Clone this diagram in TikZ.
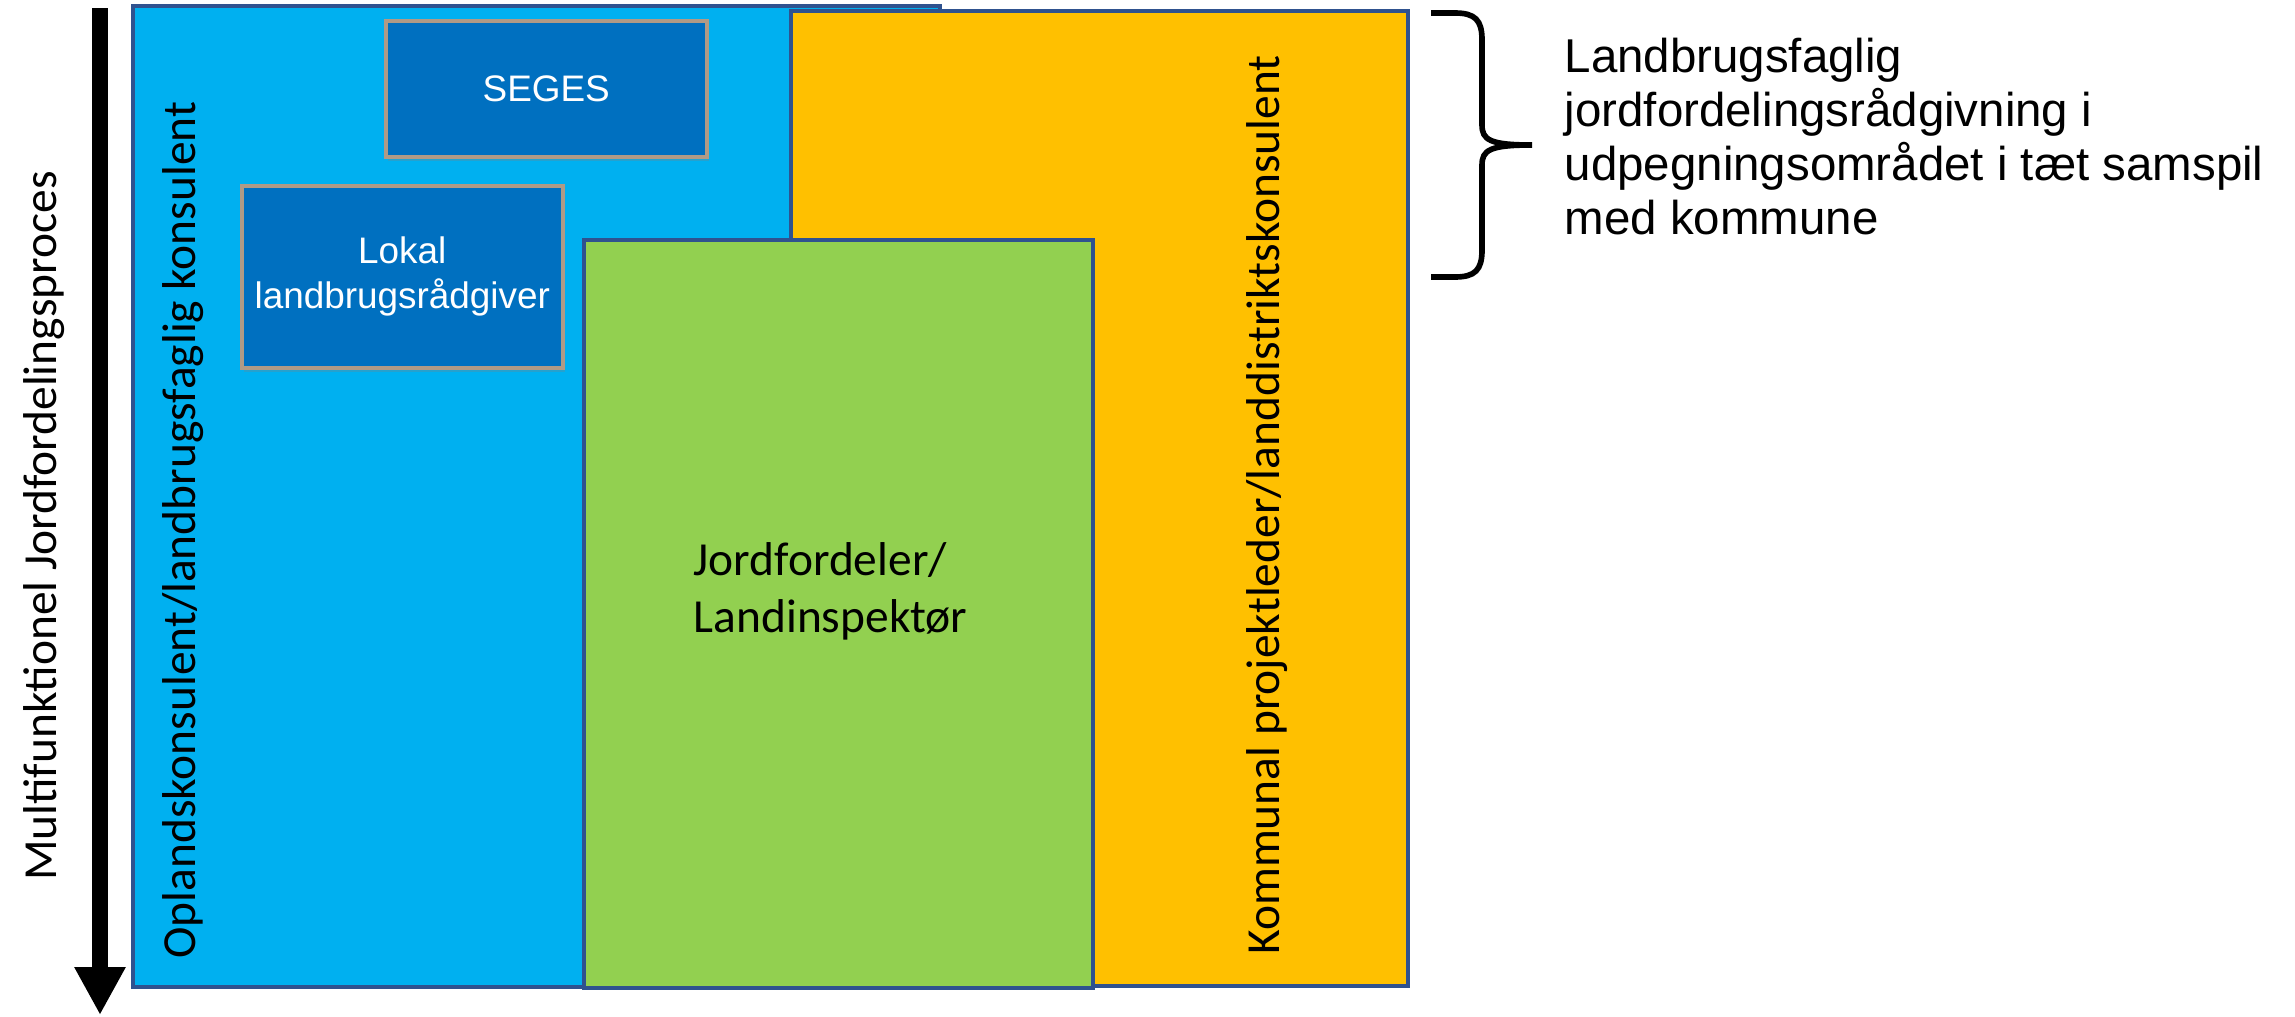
\documentclass[tikz,border=0pt]{standalone}
\usepackage{fontspec}
\setmainfont{Carlito}
\newfontfamily\arialfont{Liberation Sans}
\usetikzlibrary{arrows.meta,shadows}
\definecolor{lysblaa}{HTML}{00B0F0}
\definecolor{moerkblaa}{HTML}{0070C0}
\definecolor{orangegul}{HTML}{FFC000}
\definecolor{lysgroen}{HTML}{92D050}
\definecolor{kant}{HTML}{2F528F}
\definecolor{boksrand}{HTML}{B09A86}

\begin{document}
\begin{tikzpicture}[
  felt/.style={draw=kant,line width=0.9pt},
  boks/.style={draw=boksrand,line width=1pt,fill=moerkblaa,text=white,
    font=\arialfont\fontsize{10.5}{12.8}\selectfont,align=center,
    anchor=north west,inner sep=0pt,minimum width=3.21cm,
    drop shadow={opacity=0.3,shadow xshift=0.6pt,shadow yshift=-1.2pt}},
  lodret/.style={rotate=90,font=\fontsize{13.5}{16}\selectfont},
  pil/.style={line width=4.6pt,-{Triangle[width=0.48cm,length=0.48cm]}}
]
\useasboundingbox (0,0) rectangle (22.95,-10.16);

% tidsakse
\coordinate (start) at (1.00,-0.08);
\coordinate (slut) at (1.00,-10.15);
\draw[pil] (start) -- (slut);
\node[lodret] (proces) at (0.44,-5.26) {Multifunktionel Jordfordelingsproces};

% felter
\draw[felt,fill=lysblaa] (1.33,-0.06) rectangle (9.40,-9.87);
\draw[felt,fill=orangegul] (7.91,-0.11) rectangle (14.08,-9.86);
\draw[felt,fill=lysgroen] (5.84,-2.40) rectangle (10.93,-9.88);

\node[lodret] (opland) at (1.835,-5.30) {Oplandskonsulent/landbrugsfaglig konsulent};
\node[lodret] (kommune) at (12.67,-5.05) {Kommunal projektleder/landdistriktskonsulent};
\node[anchor=west,align=left,inner sep=0pt,font=\fontsize{13.5}{16.2}\selectfont] (jordf) at (6.93,-5.91) {Jordfordeler/\\Landinspekt\o r};

% raadgivere
\node[boks,minimum height=1.36cm] (seges) at (3.84,-0.19) {SEGES};
\node[boks,minimum height=1.82cm] (lokal) at (2.40,-1.84) {Lokal\\landbrugsr\aa dgiver};

% klamme
\draw[line width=1.6pt] (14.31,-0.13) -- (14.55,-0.13)
  .. controls (14.75,-0.13) and (14.82,-0.20) .. (14.82,-0.40) -- (14.82,-1.25)
  .. controls (14.82,-1.40) and (14.90,-1.45) .. (15.32,-1.45)
  .. controls (14.90,-1.45) and (14.82,-1.50) .. (14.82,-1.65) -- (14.82,-2.50)
  .. controls (14.82,-2.70) and (14.75,-2.77) .. (14.55,-2.77) -- (14.31,-2.77);
\node[anchor=north west,align=left,inner sep=0pt,font=\arialfont\fontsize{13.5}{15.4}\selectfont] (tekst) at (15.64,-0.37)
  {Landbrugsfaglig\\jordfordelingsr\aa dgivning i\\udpegningsomr\aa det i t\ae t samspil\\med kommune};
\end{tikzpicture}
\end{document}
